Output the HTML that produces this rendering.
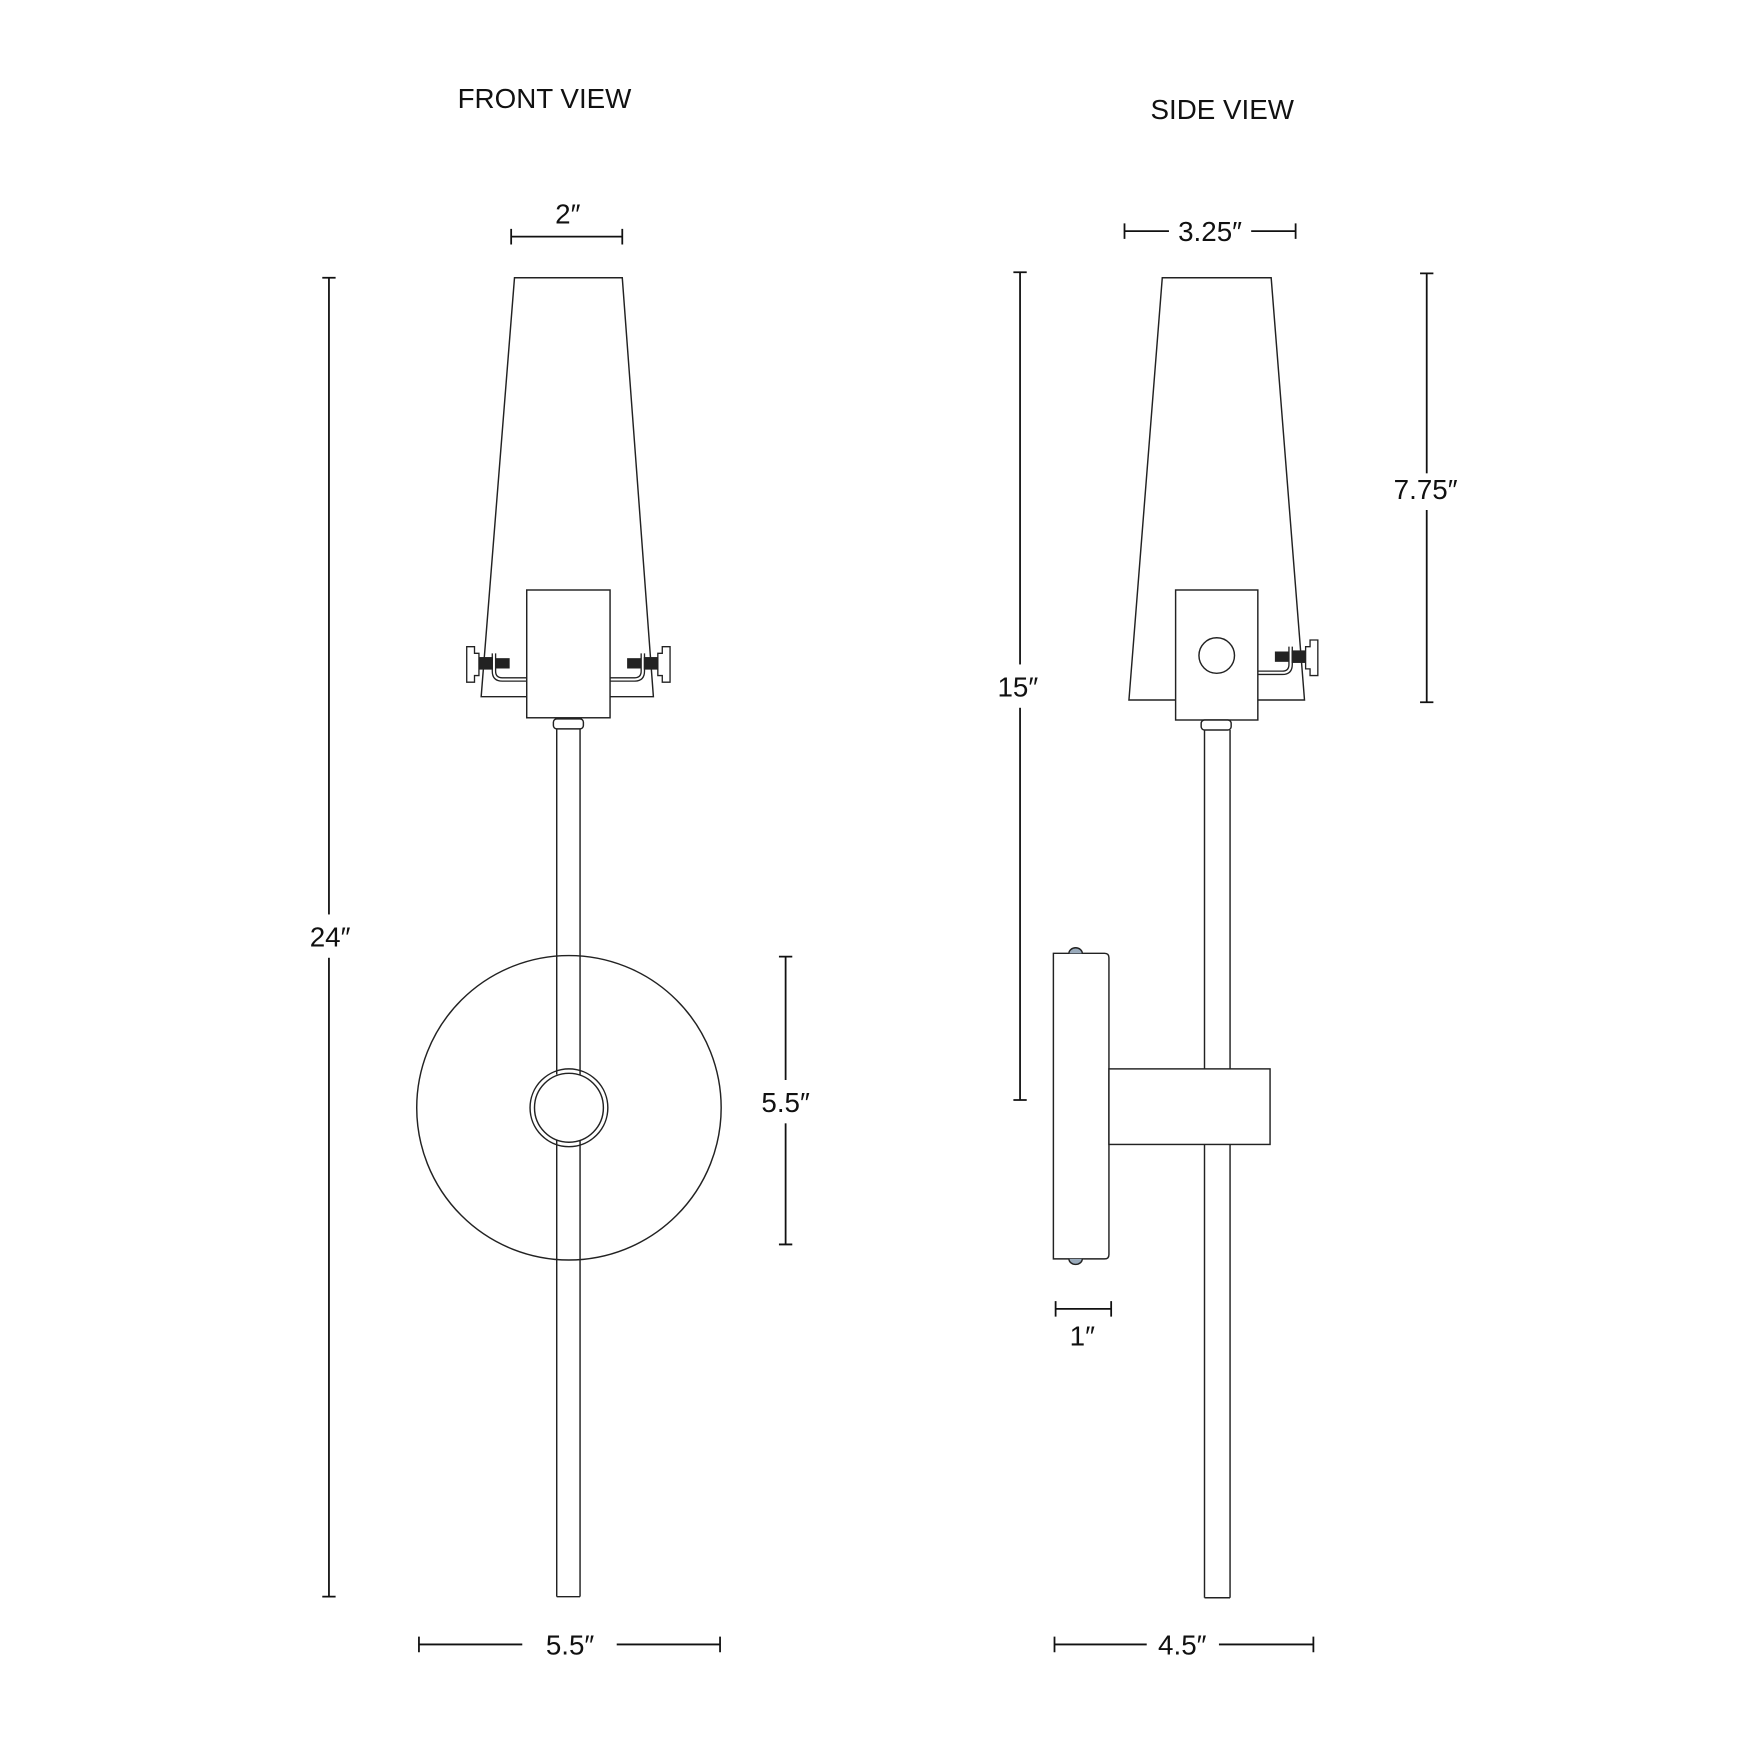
<!DOCTYPE html>
<html><head><meta charset="utf-8"><style>
html,body{margin:0;padding:0;background:#fff;}
svg{display:block;}
text{font-family:"Liberation Sans",sans-serif;font-size:25px;fill:#111;}
</style></head><body>
<svg width="1739" height="1740" viewBox="0 0 1565 1566" xmlns="http://www.w3.org/2000/svg">
<defs>
<g id="clipR">
  <path d="M0,0 H22 Q28,0 28,-6 V-22" fill="none" stroke="#222" stroke-width="1.2"/>
  <path d="M0,3 H22 Q31,3 31,-6 V-22" fill="none" stroke="#222" stroke-width="1.2"/>
  <rect x="16" y="-17" width="11" height="8" fill="#222"/>
  <rect x="31" y="-18" width="12" height="10" fill="#222"/>
  <path d="M43,-22 h4 v-6 h7 v32 h-7 v-6 h-4z" fill="#fff" stroke="#222" stroke-width="1.2"/>
</g>
</defs>
<g fill="none" stroke="#222" stroke-width="1.3">
<!-- FRONT VIEW -->
<polygon points="463,250 560,250 588,627 433,627" fill="#fff"/>
<rect x="474" y="531" width="75" height="115" fill="#fff"/>
<use href="#clipR" transform="translate(549,610)"/>
<use href="#clipR" transform="translate(474,610) scale(-1,1)"/>
<rect x="498" y="647" width="27" height="9" rx="3" fill="#fff"/>
<circle cx="512" cy="997" r="137" fill="#fff"/>
<line x1="501" y1="656" x2="501" y2="967"/><line x1="522" y1="656" x2="522" y2="967"/>
<line x1="501" y1="1026" x2="501" y2="1437"/><line x1="522" y1="1026" x2="522" y2="1437"/>
<line x1="501" y1="1437" x2="522" y2="1437"/>
<circle cx="512" cy="997" r="35"/>
<circle cx="512" cy="997" r="31"/>
<!-- SIDE VIEW -->
<polygon points="1046,250 1144,250 1174,630 1016,630" fill="#fff"/>
<rect x="1058" y="531" width="74" height="117" fill="#fff"/>
<circle cx="1095" cy="590" r="16"/>
<use href="#clipR" transform="translate(1132,604)"/>
<rect x="1081" y="648" width="27" height="9" rx="3" fill="#fff"/>
<line x1="1084" y1="657" x2="1084" y2="962"/><line x1="1107" y1="657" x2="1107" y2="962"/>
<line x1="1084" y1="1030" x2="1084" y2="1438"/><line x1="1107" y1="1030" x2="1107" y2="1438"/>
<line x1="1084" y1="1438" x2="1107" y2="1438"/>
<path d="M948,858 H994 Q998,858 998,862 V1129 Q998,1133 994,1133 H948 Z" fill="#fff"/>
<path d="M962,858 a6,5 0 0 1 12,0" fill="#9ab"/>
<path d="M962,1133 a6,5 0 0 0 12,0" fill="#9ab"/>
<rect x="998" y="962" width="145" height="68" fill="#fff"/>
</g>
<!-- dimension lines -->
<g stroke="#111" stroke-width="1.6" fill="none">
<path d="M460,213 H560 M460,206 V220 M560,206 V220"/>
<path d="M296,250 V1437 M290,250 H302 M290,1437 H302"/>
<path d="M707,861 V1120 M701,861 H713 M701,1120 H713"/>
<path d="M377,1480 H470 M555,1480 H648 M377,1473 V1487 M648,1473 V1487"/>
<path d="M1012,208 H1052 M1126,208 H1166 M1012,201 V215 M1166,201 V215"/>
<path d="M918,245 V990 M912,245 H924 M912,990 H924"/>
<path d="M1284,246 V632 M1278,246 H1290 M1278,632 H1290"/>
<path d="M950,1178 H1000 M950,1171 V1185 M1000,1171 V1185"/>
<path d="M949,1480 H1032 M1097,1480 H1182 M949,1473 V1487 M1182,1473 V1487"/>
</g>
<g fill="#fff">
<rect x="270" y="823" width="55" height="39"/>
<rect x="680" y="972" width="55" height="39"/>
<rect x="892" y="598" width="50" height="39"/>
<rect x="1250" y="426" width="70" height="33"/>
</g>
<g text-anchor="middle">
<text x="490" y="97">FRONT VIEW</text>
<text x="1100" y="107">SIDE VIEW</text>
<text x="511" y="201">2″</text>
<text x="1089" y="217">3.25″</text>
<text x="297" y="852">24″</text>
<text x="707" y="1001">5.5″</text>
<text x="513" y="1489">5.5″</text>
<text x="916" y="627">15″</text>
<text x="1283" y="449">7.75″</text>
<text x="974" y="1211">1″</text>
<text x="1064" y="1489">4.5″</text>
</g>
</svg>
</body></html>
